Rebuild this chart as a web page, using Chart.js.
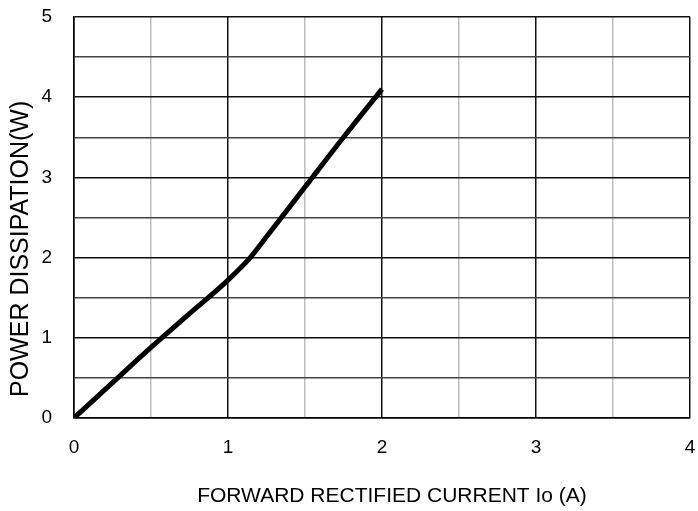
<!DOCTYPE html>
<html>
<head>
<meta charset="utf-8">
<script src="https://cdn.jsdelivr.net/npm/chart.js@4"></script>
<style>
  html, body { margin: 0; padding: 0; background: #fff; }
  #wrap { width: 698px; height: 511px; }
</style>
</head>
<body>
<div id="wrap"><canvas id="chart" width="698" height="511"></canvas></div>
<script>
const currentA = [0, 0.25, 0.5, 0.75, 1, 1.14, 1.25, 1.5, 1.75, 2]
const powerW = [0, 0.44, 0.88, 1.3, 1.72, 1.99, 2.26, 2.88, 3.5, 4.1]
const xTicks = [0, 0.5, 1, 1.5, 2, 2.5, 3, 3.5, 4]
const yTicks = [0, 0.5, 1, 1.5, 2, 2.5, 3, 3.5, 4, 4.5, 5]
const xTitle = 'FORWARD RECTIFIED CURRENT Io (A)'
const yTitle = 'POWER DISSIPATION(W)'

const family = 'Arial, "Liberation Sans", sans-serif'
const tickFont = {family: family, size: 19}

const isInt = (v) => Math.abs(v - Math.round(v)) < 1e-9

const points = currentA.map((x, i) => ({x: x, y: powerW[i]}))

// axis titles sit a little off-centre in the original, so draw them by hand
const axisTitles = {
    id: 'axisTitles',
    afterDraw: function (chart) {
        let ctx = chart.ctx
        let a = chart.chartArea
        ctx.save()
        ctx.fillStyle = '#000'
        ctx.font = '21px ' + family
        ctx.textAlign = 'center'
        ctx.textBaseline = 'alphabetic'
        ctx.fillText(xTitle, a.left + 318, a.bottom + 84)
        ctx.translate(28, a.bottom - 21)
        ctx.rotate(-Math.PI / 2)
        ctx.font = '25px ' + family
        ctx.textAlign = 'left'
        ctx.fillText(yTitle, 0, 0)
        ctx.restore()
    }
}

new Chart(document.getElementById('chart'), {
    type: 'line',
    data: {
        datasets: [{
            data: points,
            borderColor: '#000',
            borderWidth: 5,
            pointRadius: 0,
            cubicInterpolationMode: 'monotone',
            borderCapStyle: 'butt'
        }]
    },
    options: {
        responsive: false,
        animation: false,
        layout: {padding: {left: 0, right: 8, top: 17, bottom: 0}},
        plugins: {legend: {display: false}, tooltip: {enabled: false}},
        scales: {
            x: {
                type: 'linear',
                min: 0,
                max: 4,
                afterBuildTicks: (s) => { s.ticks = xTicks.map((v) => ({value: v})) },
                afterFit: (s) => {
                    s.height = 93
                    s.paddingLeft = 0
                    s.paddingRight = 0
                },
                grid: {
                    drawTicks: false,
                    lineWidth: 1.5,
                    color: (c) => isInt(c.tick.value) ? '#111' : '#bdbdbd'
                },
                border: {color: '#000', width: 1.5},
                ticks: {
                    autoSkip: false,
                    maxRotation: 0,
                    padding: 18,
                    color: '#000',
                    font: tickFont,
                    callback: (v) => isInt(v) ? String(v) : ''
                }
            },
            y: {
                type: 'linear',
                min: 0,
                max: 5,
                afterBuildTicks: (s) => { s.ticks = yTicks.map((v) => ({value: v})) },
                afterFit: (s) => {
                    s.width = 74
                    s.paddingTop = 0
                    s.paddingBottom = 0
                },
                grid: {
                    drawTicks: false,
                    lineWidth: 1.5,
                    color: (c) => isInt(c.tick.value) ? '#111' : '#444'
                },
                border: {color: '#000', width: 1.5},
                ticks: {
                    autoSkip: false,
                    padding: 22,
                    color: '#000',
                    font: tickFont,
                    callback: (v) => isInt(v) ? String(v) : ''
                }
            }
        }
    },
    plugins: [axisTitles]
})
</script>
</body>
</html>
